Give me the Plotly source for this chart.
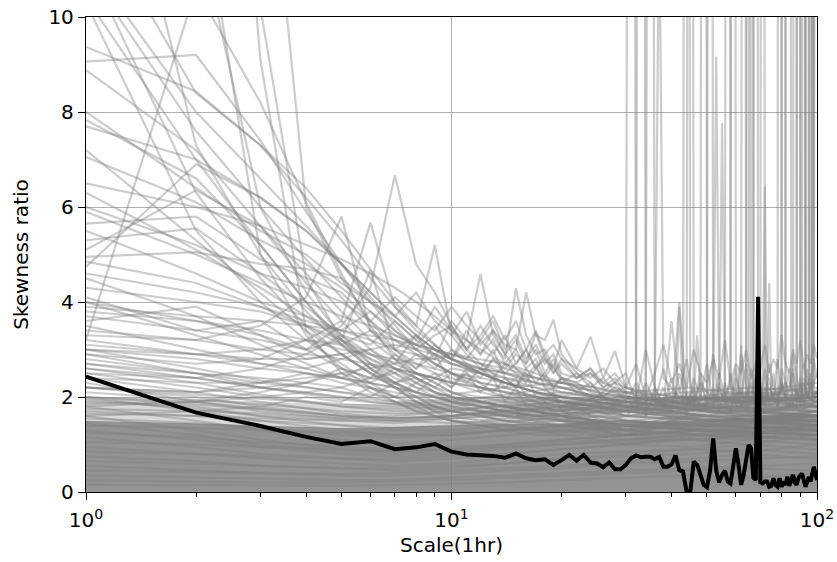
import plotly.graph_objects as go

# ---------------- data ----------------
SCALES = list(range(1, 101))
MEDIAN_RATIO = [
    2.43, 1.67, 1.39, 1.16, 1.01, 1.07, 0.90, 0.94, 1.01, 0.85,
    0.79, 0.78, 0.76, 0.72, 0.81, 0.71, 0.67, 0.69, 0.57, 0.67,
    0.78, 0.66, 0.78, 0.62, 0.60, 0.52, 0.62, 0.48, 0.48, 0.57,
    0.71, 0.77, 0.73, 0.74, 0.74, 0.69, 0.74, 0.53, 0.53, 0.58,
    0.77, 0.46, 0.43, 0.00, 0.00, 0.64, 0.57, 0.36, 0.15, 0.10,
    0.46, 1.13, 0.45, 0.20, 0.36, 0.45, 0.22, 0.18, 0.55, 0.92,
    0.57, 0.15, 0.36, 0.64, 0.99, 0.92, 0.30, 0.25, 4.11, 0.20,
    0.18, 0.22, 0.22, 0.11, 0.13, 0.29, 0.15, 0.11, 0.29, 0.11,
    0.22, 0.15, 0.32, 0.13, 0.25, 0.36, 0.20, 0.15, 0.30, 0.36,
    0.39, 0.25, 0.11, 0.22, 0.32, 0.22, 0.35, 0.53, 0.40, 0.25,
]

# upper edges of the saturated overlap of the many low series
DENSE_X = [1, 1.5, 2, 3, 4, 5, 6, 7, 8, 9, 10, 12, 14, 17, 20, 24, 28, 32, 36,
           40, 45, 50, 55, 60, 65, 70, 75, 80, 85, 90, 95, 100]
DENSE_CORE = [1.5, 1.47, 1.45, 1.4, 1.37, 1.35, 1.36, 1.37, 1.38, 1.4, 1.4, 1.42,
              1.44, 1.43, 1.45, 1.48, 1.46, 1.5, 1.47, 1.52, 1.49, 1.55, 1.52, 1.57,
              1.54, 1.6, 1.56, 1.63, 1.6, 1.64, 1.66, 1.65]
DENSE_LOOSE = [2.0, 1.98, 1.95, 1.9, 1.87, 1.85, 1.86, 1.88, 1.9, 1.93, 1.95, 1.97,
               2.0, 1.98, 2.0, 2.02, 1.97, 2.0, 1.95, 2.02, 1.98, 2.05, 2.0, 2.06,
               2.02, 2.08, 2.04, 2.1, 2.06, 2.12, 2.1, 2.12]

# low series, sampled at these scales
LOW_X = [1, 2, 3, 5, 7, 10, 14, 20, 30, 45, 65, 100]
LOW_LINES = [
    [2.0, 1.7, 1.5, 1.3, 1.2, 1.2, 1.3, 1.4, 1.5, 1.6, 1.5, 1.7],
    [1.9, 1.8, 1.6, 1.4, 1.3, 1.3, 1.4, 1.5, 1.4, 1.6, 1.7, 1.6],
    [1.8, 1.5, 1.3, 1.1, 1.0, 1.1, 1.2, 1.3, 1.4, 1.3, 1.5, 1.4],
    [1.7, 1.6, 1.5, 1.4, 1.35, 1.4, 1.45, 1.6, 1.7, 1.8, 1.6, 1.9],
    [1.6, 1.3, 1.1, 0.9, 0.85, 0.9, 1.0, 1.1, 1.2, 1.3, 1.2, 1.4],
    [1.55, 1.45, 1.35, 1.2, 1.15, 1.2, 1.3, 1.4, 1.5, 1.4, 1.6, 1.5],
    [1.45, 1.2, 1.0, 0.85, 0.8, 0.85, 0.95, 1.05, 1.1, 1.2, 1.3, 1.2],
    [1.4, 1.35, 1.3, 1.25, 1.2, 1.25, 1.3, 1.35, 1.3, 1.45, 1.4, 1.5],
    [1.3, 1.1, 0.95, 0.8, 0.75, 0.8, 0.9, 1.0, 1.05, 1.1, 1.2, 1.1],
    [1.25, 1.15, 1.05, 0.95, 0.9, 0.95, 1.0, 1.1, 1.2, 1.3, 1.25, 1.35],
    [1.15, 0.95, 0.8, 0.7, 0.65, 0.7, 0.8, 0.9, 1.0, 0.95, 1.1, 1.0],
    [1.05, 1.0, 0.95, 0.9, 0.85, 0.9, 0.95, 1.0, 1.1, 1.2, 1.1, 1.3],
    [0.95, 0.8, 0.7, 0.6, 0.55, 0.6, 0.7, 0.8, 0.85, 0.9, 1.0, 0.9],
    [0.85, 0.8, 0.75, 0.7, 0.7, 0.75, 0.8, 0.9, 1.0, 1.1, 1.0, 1.2],
    [0.75, 0.65, 0.55, 0.5, 0.45, 0.5, 0.6, 0.7, 0.75, 0.8, 0.9, 0.8],
    [0.65, 0.6, 0.55, 0.5, 0.5, 0.55, 0.6, 0.7, 0.8, 0.9, 0.85, 1.0],
    [0.55, 0.45, 0.4, 0.35, 0.35, 0.4, 0.45, 0.5, 0.6, 0.65, 0.7, 0.75],
    [0.45, 0.42, 0.4, 0.38, 0.4, 0.45, 0.5, 0.55, 0.65, 0.7, 0.8, 0.7],
    [0.35, 0.3, 0.28, 0.25, 0.25, 0.3, 0.35, 0.4, 0.45, 0.5, 0.55, 0.6],
    [0.25, 0.22, 0.2, 0.2, 0.22, 0.25, 0.3, 0.35, 0.4, 0.45, 0.5, 0.45],
    [0.15, 0.14, 0.13, 0.13, 0.15, 0.18, 0.2, 0.25, 0.3, 0.35, 0.3, 0.4],
    [2.2, 2.0, 1.8, 1.6, 1.5, 1.45, 1.5, 1.55, 1.6, 1.7, 1.8, 1.75],
    [2.3, 1.9, 1.7, 1.55, 1.5, 1.55, 1.6, 1.7, 1.8, 1.75, 1.9, 2.0],
    [1.85, 1.9, 1.75, 1.6, 1.55, 1.6, 1.7, 1.8, 1.9, 2.0, 1.85, 2.1],
]
MID_LINES = [
    [2.5, 2.2, 2.0, 1.8, 1.7, 1.75, 1.8, 1.9, 1.8, 1.9, 2.0, 1.9],
    [2.1, 1.95, 1.85, 1.7, 1.65, 1.7, 1.85, 2.0, 1.9, 1.8, 1.9, 2.0],
    [1.95, 1.75, 1.6, 1.5, 1.45, 1.55, 1.65, 1.75, 1.7, 1.8, 1.75, 1.85],
    [2.7, 2.4, 2.2, 2.0, 1.9, 1.95, 2.0, 2.1, 2.0, 1.9, 2.1, 2.0],
    [1.75, 1.7, 1.65, 1.55, 1.6, 1.7, 1.8, 1.9, 1.85, 1.95, 2.0, 1.9],
    [2.4, 2.1, 1.9, 1.65, 1.55, 1.6, 1.7, 1.8, 1.75, 1.85, 1.8, 1.95],
    [3.0, 2.6, 2.35, 2.1, 2.0, 2.05, 2.2, 2.3, 2.1, 2.0, 1.9, 2.0],
    [2.2, 2.05, 1.95, 1.85, 1.8, 1.85, 1.95, 2.05, 2.0, 2.1, 2.2, 2.1],
    [1.65, 1.6, 1.55, 1.5, 1.5, 1.6, 1.75, 1.85, 1.8, 1.7, 1.85, 1.8],
    [2.9, 2.5, 2.2, 1.95, 1.85, 1.9, 2.05, 2.2, 2.1, 2.2, 2.05, 2.2],
    [2.0, 1.85, 1.75, 1.6, 1.55, 1.6, 1.7, 1.8, 1.75, 1.65, 1.75, 1.7],
    [2.6, 2.3, 2.05, 1.8, 1.75, 1.8, 1.9, 2.0, 1.9, 2.0, 2.1, 2.3],
]

# smooth series, sampled at these scales
SMOOTH_X = [1, 2, 3, 4, 5, 6, 7, 8, 9, 10, 12, 14, 17, 20, 25, 30, 50, 100]
SMOOTH_LINES = [
    [10.3, 5.5, 4.0, 3.2, 2.7, 2.3, 2.0, 1.8, 1.6, 1.5, 1.4, 1.35, 1.3, 1.25, 1.3, 1.2, 1.3, 1.2],
    [10.4, 7.0, 5.2, 4.0, 3.2, 2.7, 2.4, 2.2, 2.1, 2.0, 1.9, 1.8, 1.7, 1.6, 1.5, 1.4, 1.3, 1.4],
    [11.2, 6.3, 4.5, 3.5, 2.9, 2.5, 2.2, 1.9, 1.7, 1.5, 1.4, 1.3, 1.2, 1.2, 1.1, 1.0, 1.2, 1.3],
    [11.0, 7.6, 6.0, 4.9, 4.1, 3.4, 2.9, 2.5, 2.3, 2.1, 2.0, 1.9, 1.8, 1.7, 1.8, 1.6, 1.5, 1.5],
    [11.2, 8.0, 6.6, 5.6, 4.8, 4.1, 3.5, 3.0, 2.7, 2.5, 2.3, 2.2, 2.0, 1.9, 1.8, 1.7, 1.6, 1.4],
    [12.4, 8.4, 7.3, 6.4, 5.5, 4.7, 4.0, 3.5, 3.1, 2.8, 2.5, 2.3, 2.1, 2.0, 1.9, 1.8, 1.5, 1.6],
    [16.7, 7.3, 5.0, 3.8, 3.1, 2.6, 2.3, 2.0, 1.8, 1.7, 1.6, 1.5, 1.4, 1.4, 1.3, 1.2, 1.2, 1.1],
    [3.2, 10.6, 8.2, 6.1, 4.6, 3.5, 2.8, 2.4, 2.2, 2.0, 1.9, 1.8, 1.7, 1.6, 1.7, 1.5, 1.4, 1.3],
    [18.0, 12.1, 6.0, 4.2, 3.3, 2.7, 2.3, 2.1, 1.9, 1.8, 1.7, 1.6, 1.5, 1.5, 1.4, 1.3, 1.2, 1.5],
    [22.0, 13.3, 5.0, 3.3, 2.6, 2.2, 1.9, 1.7, 1.6, 1.5, 1.45, 1.4, 1.35, 1.3, 1.25, 1.2, 1.3, 1.2],
    [40.0, 25.0, 9.1, 3.4, 2.5, 2.1, 1.9, 1.7, 1.6, 1.5, 1.4, 1.3, 1.3, 1.2, 1.2, 1.1, 1.1, 1.4],
    [30.0, 20.0, 10.2, 4.5, 3.2, 2.6, 2.3, 2.1, 2.0, 1.9, 1.8, 1.7, 1.6, 1.6, 1.5, 1.4, 1.4, 1.3],
    [30.0, 22.0, 15.6, 6.0, 4.5, 3.6, 3.0, 2.7, 2.5, 2.4, 2.2, 2.1, 1.9, 1.8, 1.7, 1.6, 1.5, 1.4],
    [9.06, 9.2, 7.4, 5.9, 4.8, 4.0, 3.4, 3.0, 2.7, 2.5, 2.2, 2.0, 1.8, 1.7, 1.6, 1.5, 1.3, 1.2],
    [9.37, 8.43, 7.3, 6.2, 5.3, 4.5, 3.9, 3.4, 3.1, 2.8, 2.5, 2.3, 2.1, 1.9, 1.8, 1.7, 1.5, 1.5],
    [8.88, 7.2, 5.6, 4.4, 3.6, 3.0, 2.6, 2.3, 2.1, 1.9, 1.7, 1.6, 1.5, 1.4, 1.4, 1.3, 1.2, 1.3],
    [7.83, 6.6, 5.2, 4.0, 3.1, 2.6, 2.2, 1.9, 1.7, 1.6, 1.5, 1.4, 1.3, 1.3, 1.2, 1.2, 1.1, 1.2],
    [7.7, 7.0, 6.2, 5.5, 4.8, 4.2, 3.7, 3.3, 3.0, 2.8, 2.5, 2.3, 2.1, 2.0, 1.9, 1.8, 1.6, 1.4],
    [4.74, 6.9, 6.2, 5.5, 4.8, 4.2, 3.7, 3.3, 3.0, 2.8, 2.6, 2.4, 2.2, 2.0, 1.9, 1.8, 1.6, 1.5],
    [5.1, 6.35, 5.6, 4.6, 3.8, 3.2, 2.8, 2.5, 2.3, 2.1, 1.9, 1.8, 1.7, 1.6, 1.5, 1.4, 1.3, 1.4],
    [7.2, 5.3, 4.2, 3.4, 2.9, 2.5, 2.2, 2.0, 1.8, 1.7, 1.6, 1.5, 1.45, 1.4, 1.35, 1.3, 1.4, 1.3],
    [7.05, 6.1, 5.3, 4.8, 4.3, 3.8, 3.4, 3.1, 2.9, 2.7, 2.5, 2.3, 2.1, 2.0, 1.9, 1.8, 1.6, 1.6],
    [6.5, 6.0, 5.6, 5.2, 4.9, 4.6, 4.3, 4.0, 3.7, 3.4, 3.0, 2.7, 2.4, 2.2, 2.0, 1.9, 1.7, 1.7],
    [6.3, 5.1, 4.3, 3.7, 3.2, 2.8, 2.5, 2.3, 2.1, 2.0, 1.8, 1.7, 1.6, 1.5, 1.4, 1.4, 1.3, 1.2],
    [5.65, 5.8, 4.9, 4.5, 4.2, 3.6, 3.2, 2.9, 2.7, 2.5, 2.3, 2.2, 2.0, 1.9, 1.8, 1.7, 1.5, 1.5],
    [5.3, 5.55, 4.6, 3.9, 3.3, 2.9, 2.6, 2.4, 2.2, 2.1, 1.9, 1.8, 1.7, 1.6, 1.5, 1.5, 1.4, 1.3],
    [4.95, 5.05, 4.8, 4.7, 4.5, 4.0, 3.6, 3.2, 2.9, 2.7, 2.5, 2.3, 2.1, 2.0, 1.9, 1.8, 1.6, 1.4],
    [4.85, 4.4, 3.9, 3.5, 3.2, 2.9, 2.7, 2.5, 2.4, 2.3, 2.1, 2.0, 1.9, 1.8, 1.7, 1.6, 1.5, 1.6],
    [4.5, 3.7, 3.1, 2.7, 2.4, 2.2, 2.0, 1.9, 1.8, 1.7, 1.6, 1.5, 1.45, 1.4, 1.35, 1.3, 1.2, 1.1],
    [4.3, 4.0, 3.8, 3.5, 3.1, 2.8, 2.6, 2.5, 2.4, 2.3, 2.2, 2.1, 2.0, 1.9, 1.8, 1.7, 1.5, 1.5],
    [4.0, 3.3, 2.9, 2.6, 2.4, 2.3, 2.2, 2.1, 2.0, 1.95, 1.9, 1.8, 1.7, 1.6, 1.5, 1.4, 1.3, 1.4],
    [3.8, 3.6, 3.4, 3.2, 3.0, 2.9, 2.8, 2.7, 2.6, 2.5, 2.4, 2.3, 2.2, 2.1, 2.0, 1.9, 1.7, 1.5],
    [3.5, 3.0, 2.7, 2.5, 2.3, 2.2, 2.1, 2.0, 1.9, 1.8, 1.7, 1.6, 1.55, 1.5, 1.45, 1.4, 1.3, 1.6],
    [3.3, 3.2, 3.0, 2.9, 2.8, 2.7, 2.6, 2.5, 2.4, 2.3, 2.2, 2.1, 2.0, 1.9, 1.8, 1.7, 1.6, 1.6],
    [3.0, 2.8, 2.6, 2.5, 2.4, 2.3, 2.2, 2.1, 2.0, 1.9, 1.8, 1.7, 1.6, 1.5, 1.5, 1.4, 1.5, 1.7],
    [2.8, 2.5, 2.3, 2.2, 2.1, 2.0, 1.9, 1.85, 1.8, 1.75, 1.7, 1.65, 1.6, 1.55, 1.5, 1.45, 1.4, 1.5],
    [2.6, 2.4, 2.2, 2.1, 2.0, 1.9, 1.85, 1.8, 1.75, 1.7, 1.65, 1.6, 1.55, 1.5, 1.45, 1.4, 1.35, 1.6],
    [4.1, 3.4, 3.6, 3.0, 2.6, 2.4, 2.5, 2.2, 2.0, 1.9, 1.8, 1.7, 1.6, 1.6, 1.5, 1.5, 1.4, 1.3],
    [3.6, 3.9, 3.3, 2.8, 2.9, 2.5, 2.3, 2.4, 2.1, 2.0, 1.9, 1.8, 1.7, 1.6, 1.6, 1.5, 1.4, 1.7],
    [4.6, 4.2, 3.9, 3.6, 3.4, 3.2, 3.0, 2.9, 2.8, 2.7, 2.6, 2.5, 2.4, 2.3, 2.2, 2.0, 1.8, 1.6],
    [3.9, 3.7, 3.6, 3.5, 3.4, 3.3, 3.2, 3.1, 3.0, 2.9, 2.7, 2.5, 2.3, 2.1, 2.0, 1.9, 1.7, 1.5],
    [2.4, 2.3, 2.3, 2.4, 2.5, 2.6, 2.7, 2.8, 2.8, 2.9, 2.8, 2.7, 2.5, 2.3, 2.1, 2.0, 1.8, 1.7],
    [3.2, 2.9, 2.8, 2.8, 2.9, 3.0, 3.1, 3.0, 2.9, 2.8, 2.6, 2.5, 2.3, 2.2, 2.0, 1.9, 1.7, 1.6],
    [5.9, 5.0, 4.4, 4.0, 3.7, 3.5, 3.3, 3.1, 3.0, 2.9, 2.7, 2.6, 2.4, 2.3, 2.1, 2.0, 1.8, 1.6],
    [2.2, 2.1, 2.2, 2.3, 2.2, 2.4, 2.3, 2.5, 2.4, 2.6, 2.5, 2.4, 2.3, 2.2, 2.0, 1.9, 1.7, 1.8],
]

# jagged series, sampled at these scales
JAGGED_X = [1, 2, 3, 4, 5, 6, 7, 8, 9, 10, 11, 12, 13, 14, 15, 16, 17, 18, 19,
            20, 22, 24, 26, 28, 30, 40, 60, 100]
JAGGED_LINES = [
    [4.0, 3.6, 3.3, 3.0, 3.5, 4.3, 6.67, 4.8, 4.2, 3.5, 3.0, 2.7, 2.5, 2.2, 2.4, 2.0, 1.9, 1.8, 1.7, 1.6, 1.5, 1.4, 1.3, 1.3, 1.2, 1.4, 1.5, 1.6],
    [3.4, 3.2, 3.5, 4.1, 5.8, 3.4, 3.0, 2.6, 2.9, 2.3, 2.5, 2.1, 2.4, 1.9, 2.2, 1.8, 1.7, 1.9, 1.6, 1.5, 1.4, 1.5, 1.3, 1.2, 1.2, 1.5, 1.4, 1.7],
    [2.9, 2.7, 2.8, 3.2, 3.6, 5.67, 3.9, 3.5, 5.2, 3.3, 2.9, 2.6, 3.0, 2.4, 2.2, 2.5, 2.0, 1.9, 2.1, 1.7, 1.6, 1.5, 1.4, 1.4, 1.3, 1.6, 1.5, 1.4],
    [3.7, 3.4, 3.2, 3.0, 3.2, 4.67, 3.0, 3.3, 2.8, 3.6, 3.2, 4.59, 3.3, 2.9, 2.6, 2.4, 2.7, 2.2, 2.0, 1.9, 1.8, 1.6, 1.5, 1.4, 1.3, 1.5, 1.7, 1.6],
    [2.5, 2.4, 2.6, 2.9, 3.3, 3.1, 3.6, 3.2, 3.9, 3.4, 3.0, 3.5, 3.1, 2.8, 4.29, 3.3, 2.9, 3.0, 2.6, 2.4, 2.2, 2.0, 1.8, 1.7, 1.6, 1.7, 1.8, 1.6],
    [3.1, 2.9, 2.7, 2.6, 2.8, 3.0, 2.7, 3.3, 3.0, 2.8, 3.2, 2.9, 3.4, 3.1, 3.0, 4.2, 3.3, 3.2, 3.63, 2.9, 2.5, 2.3, 2.0, 1.9, 1.8, 1.9, 1.6, 1.8],
    [2.2, 2.1, 2.3, 2.5, 2.4, 2.7, 2.5, 2.9, 2.6, 3.0, 2.7, 2.5, 2.8, 2.6, 2.9, 2.7, 3.35, 2.8, 2.6, 3.2, 2.6, 3.27, 2.4, 2.97, 2.2, 1.8, 1.9, 1.7],
    [2.7, 2.5, 2.4, 2.3, 2.5, 2.3, 2.6, 2.4, 2.2, 2.5, 2.3, 2.6, 2.4, 2.7, 2.5, 2.3, 2.6, 2.4, 2.2, 2.4, 2.3, 2.5, 2.2, 2.4, 2.1, 1.9, 1.7, 1.8],
    [2.0, 1.9, 2.0, 2.1, 2.2, 2.0, 2.3, 2.1, 2.4, 2.2, 2.5, 2.3, 2.1, 2.4, 2.2, 2.6, 2.3, 2.5, 2.2, 2.4, 2.1, 2.3, 2.0, 2.2, 1.9, 1.8, 1.6, 1.9],
    [5.5, 4.6, 4.0, 3.7, 3.4, 3.8, 3.3, 3.1, 3.5, 3.0, 2.8, 3.2, 2.9, 3.3, 2.7, 3.0, 2.6, 2.8, 2.5, 2.7, 2.4, 2.5, 2.3, 2.2, 2.1, 1.8, 1.7, 1.6],
    [6.0, 5.2, 4.6, 4.3, 4.0, 3.6, 4.1, 3.7, 3.4, 3.9, 3.5, 3.2, 3.6, 3.0, 3.3, 2.8, 3.1, 2.7, 2.9, 2.5, 2.4, 2.6, 2.2, 2.3, 2.0, 1.7, 1.8, 1.7],
    [1.8, 1.9, 2.1, 2.3, 2.6, 2.4, 2.9, 2.6, 3.1, 2.8, 3.4, 2.9, 3.2, 2.7, 3.0, 2.6, 2.8, 2.4, 2.7, 2.3, 2.5, 2.2, 2.4, 2.1, 2.0, 1.9, 1.8, 2.0],
    [8.0, 6.4, 5.5, 5.0, 4.4, 4.0, 3.7, 4.2, 3.6, 3.3, 3.8, 3.1, 3.4, 2.9, 3.2, 2.7, 3.0, 2.5, 2.8, 2.4, 2.3, 2.1, 2.0, 1.9, 1.8, 1.6, 1.5, 1.7],
    [3.0, 2.9, 3.0, 3.2, 3.1, 3.4, 3.2, 3.0, 3.3, 3.5, 3.0, 3.3, 3.7, 3.2, 3.6, 3.0, 3.4, 2.9, 3.1, 2.8, 2.6, 2.4, 2.6, 2.3, 2.2, 2.0, 1.9, 1.8],
    [1.6, 1.7, 1.8, 2.0, 1.9, 2.2, 2.0, 2.3, 2.5, 2.2, 2.6, 2.4, 2.8, 2.5, 2.7, 3.0, 2.6, 2.9, 2.5, 2.8, 2.4, 2.6, 2.3, 2.5, 2.2, 1.9, 2.0, 1.8],
]

# noisy series at large scales
TAIL_X = [20, 25, 30, 32, 34, 36, 38, 40, 42, 44, 46, 48, 50, 52, 54, 56, 58, 60, 62, 64,
          66, 68, 70, 72, 74, 76, 78, 80, 82, 84, 86, 88, 90, 92, 94, 96, 98, 100]
TAIL_LINES = [
    [1.5, 1.6, 1.7, 2.0, 1.6, 2.2, 1.8, 2.4, 1.7, 2.1, 1.9, 2.5, 1.8, 2.2, 1.7, 2.3, 1.9, 2.6, 1.8, 2.1, 1.9, 2.4, 1.7, 2.2, 1.9, 2.5, 1.8, 2.3, 2.0, 2.6, 1.9, 2.2, 1.8, 2.4, 2.0, 2.3, 1.9, 2.1],
    [1.6, 1.8, 2.1, 1.7, 2.3, 1.9, 2.6, 1.9, 2.2, 1.6, 2.4, 2.0, 2.7, 1.8, 2.3, 1.8, 2.5, 1.9, 2.2, 1.7, 2.6, 2.0, 2.3, 1.8, 2.4, 1.9, 2.8, 2.1, 2.3, 1.9, 2.5, 2.0, 2.4, 1.9, 2.6, 2.1, 2.3, 2.5],
    [1.5, 1.7, 1.9, 2.3, 1.9, 1.8, 2.2, 1.7, 2.5, 2.0, 1.8, 2.3, 1.9, 2.9, 1.8, 2.1, 1.7, 2.4, 2.0, 2.7, 1.8, 2.2, 1.9, 2.6, 1.8, 2.1, 1.8, 2.4, 1.9, 2.2, 2.6, 1.9, 2.3, 1.8, 2.2, 2.5, 2.0, 2.2],
    [1.7, 2.0, 2.5, 1.9, 3.0, 2.2, 1.8, 3.6, 2.1, 2.8, 1.9, 2.3, 2.1, 1.9, 2.5, 2.0, 2.3, 1.8, 2.9, 2.2, 2.0, 2.5, 2.1, 1.9, 2.7, 2.2, 2.0, 2.6, 2.3, 2.1, 2.9, 2.4, 2.1, 2.7, 2.3, 2.2, 2.8, 2.4],
    [1.4, 1.5, 1.6, 1.8, 1.7, 2.0, 1.8, 1.7, 4.0, 1.8, 2.2, 1.7, 2.0, 1.8, 2.2, 1.9, 1.7, 2.1, 1.8, 2.0, 2.3, 1.9, 2.1, 1.8, 2.2, 2.0, 1.9, 2.3, 2.0, 1.8, 2.2, 2.1, 1.9, 2.3, 2.0, 2.2, 2.0, 2.1],
    [1.8, 2.0, 2.2, 2.7, 2.0, 2.5, 3.1, 2.3, 2.7, 2.2, 3.0, 2.5, 2.3, 2.8, 2.4, 3.2, 2.3, 2.7, 2.5, 3.0, 2.4, 2.7, 2.6, 3.1, 2.5, 2.8, 2.6, 3.3, 2.7, 2.5, 3.0, 2.7, 3.2, 2.6, 2.9, 2.7, 3.1, 2.8],
]

# series with isolated bursts at large scales (x list, y list)
SPIKE_X = [
    [12, 30, 31, 32, 40, 48, 49, 50, 62, 63, 64, 80, 90, 100],
    [12, 32, 33, 34, 40, 50, 51, 52, 70, 71, 72, 85, 100],
    [12, 34, 35, 36, 44, 45, 46, 58, 59, 60, 80, 81, 82, 100],
    [12, 36, 37, 38, 43, 44, 45, 64, 65, 66, 78, 79, 80, 100],
    [15, 52, 53, 54, 56, 57, 58, 67, 68, 69, 86, 87, 88, 100],
    [15, 54, 55, 56, 65, 66, 67, 82, 83, 84, 85, 93, 94, 95, 100],
    [15, 70, 71, 72, 73, 90, 91, 92, 93, 97, 98, 99, 100],
    [15, 60, 61, 62, 75, 76, 77, 95, 96, 97, 100],
    [15, 46, 47, 48, 73, 74, 75, 88, 89, 90, 98, 99, 100],
    [15, 41, 42, 43, 61, 62, 63, 91, 92, 93, 96, 97, 98, 100],
]
SPIKE_Y = [
    [1.6, 1.8, 45, 1.7, 2.0, 1.9, 60, 2.1, 1.8, 50, 1.9, 2.1, 1.7, 1.9],
    [1.7, 1.9, 55, 1.6, 2.1, 1.8, 45, 2.0, 1.9, 70, 1.8, 2.0, 1.8],
    [1.5, 1.8, 40, 1.9, 1.7, 65, 1.8, 2.0, 55, 1.9, 2.1, 60, 1.8, 2.0],
    [1.8, 2.0, 12.5, 2.4, 1.9, 50, 1.8, 2.0, 45, 2.1, 1.9, 70, 2.0, 1.8],
    [1.9, 2.0, 9.17, 2.1, 1.9, 55, 2.2, 1.9, 65, 2.0, 1.8, 60, 2.1, 1.9],
    [1.7, 1.9, 7.77, 2.0, 1.8, 50, 1.9, 2.0, 70, 45, 2.2, 1.9, 60, 2.0, 2.1],
    [1.8, 2.0, 1.9, 6.43, 2.0, 1.8, 55, 60, 2.1, 1.9, 70, 50, 65],
    [1.6, 1.8, 2.0, 1.9, 2.0, 2.1, 1.9, 2.0, 65, 2.2, 60],
    [1.7, 1.9, 3.3, 2.0, 1.9, 4.4, 2.0, 1.8, 55, 2.1, 1.9, 60, 55],
    [1.6, 1.8, 3.9, 2.0, 1.9, 3.1, 2.0, 1.9, 50, 2.1, 2.0, 65, 2.2, 50],
]

X_TICKS = [1, 10, 100]
X_TICK_TEXT = ["10<sup>0</sup>", "10<sup>1</sup>", "10<sup>2</sup>"]
X_MINOR = [2, 3, 4, 5, 6, 7, 8, 9, 20, 30, 40, 50, 60, 70, 80, 90]
Y_TICKS = [0, 2, 4, 6, 8, 10]

# ---------------- figure ----------------
GRAY = "rgba(128,128,128,0.4)"
LW = 2.2
fig = go.Figure()

fig.add_trace(go.Scatter(x=DENSE_X, y=DENSE_CORE, mode="lines", line=dict(width=0),
                         fill="tozeroy", fillcolor="rgba(128,128,128,0.85)",
                         hoverinfo="skip", showlegend=False))
fig.add_trace(go.Scatter(x=DENSE_X, y=DENSE_LOOSE, mode="lines", line=dict(width=0),
                         fill="tonexty", fillcolor="rgba(128,128,128,0.3)",
                         hoverinfo="skip", showlegend=False))


def add_lines(xs, groups):
    for ys in groups:
        fig.add_trace(go.Scatter(x=xs, y=ys, mode="lines",
                                 line=dict(color=GRAY, width=LW), showlegend=False))


add_lines(LOW_X, LOW_LINES)
add_lines(LOW_X, MID_LINES)
add_lines(SMOOTH_X, SMOOTH_LINES)
add_lines(JAGGED_X, JAGGED_LINES)
add_lines(TAIL_X, TAIL_LINES)
for xs, ys in zip(SPIKE_X, SPIKE_Y):
    fig.add_trace(go.Scatter(x=xs, y=ys, mode="lines",
                             line=dict(color=GRAY, width=LW), showlegend=False))

fig.add_trace(go.Scatter(x=SCALES, y=MEDIAN_RATIO, mode="lines",
                         line=dict(color="black", width=4), showlegend=False))

FONT = "DejaVu Sans"
FS = 20
fig.update_layout(
    width=837, height=562,
    margin=dict(l=86, r=20, t=17, b=70),
    paper_bgcolor="white", plot_bgcolor="white",
    font=dict(family=FONT, size=FS, color="black"),
    showlegend=False,
)
fig.update_xaxes(
    type="log", range=[0, 2], automargin=False,
    tickmode="array", tickvals=X_TICKS, ticktext=X_TICK_TEXT,
    ticks="outside", ticklen=7, tickwidth=1.3, tickcolor="black",
    ticklabelstandoff=3,
    minor=dict(tickmode="array", tickvals=X_MINOR, ticks="outside",
               ticklen=4, tickwidth=1, tickcolor="black", showgrid=False),
    showline=True, mirror=True, linecolor="black", linewidth=1.3,
    showgrid=True, gridcolor="#b0b0b0", gridwidth=1.3,
    zeroline=False,
    title=dict(text="Scale(1hr)", font=dict(family=FONT, size=FS), standoff=6),
    tickfont=dict(family=FONT, size=FS),
)
fig.update_yaxes(
    range=[0, 10], automargin=False,
    tickmode="array", tickvals=Y_TICKS,
    ticks="outside", ticklen=7, tickwidth=1.3, tickcolor="black",
    showline=True, mirror=True, linecolor="black", linewidth=1.3,
    showgrid=True, gridcolor="#b0b0b0", gridwidth=1.3,
    zeroline=False,
    title=dict(text="Skewness ratio", font=dict(family=FONT, size=FS), standoff=14),
    tickfont=dict(family=FONT, size=FS),
)

fig.write_html("out.html")
